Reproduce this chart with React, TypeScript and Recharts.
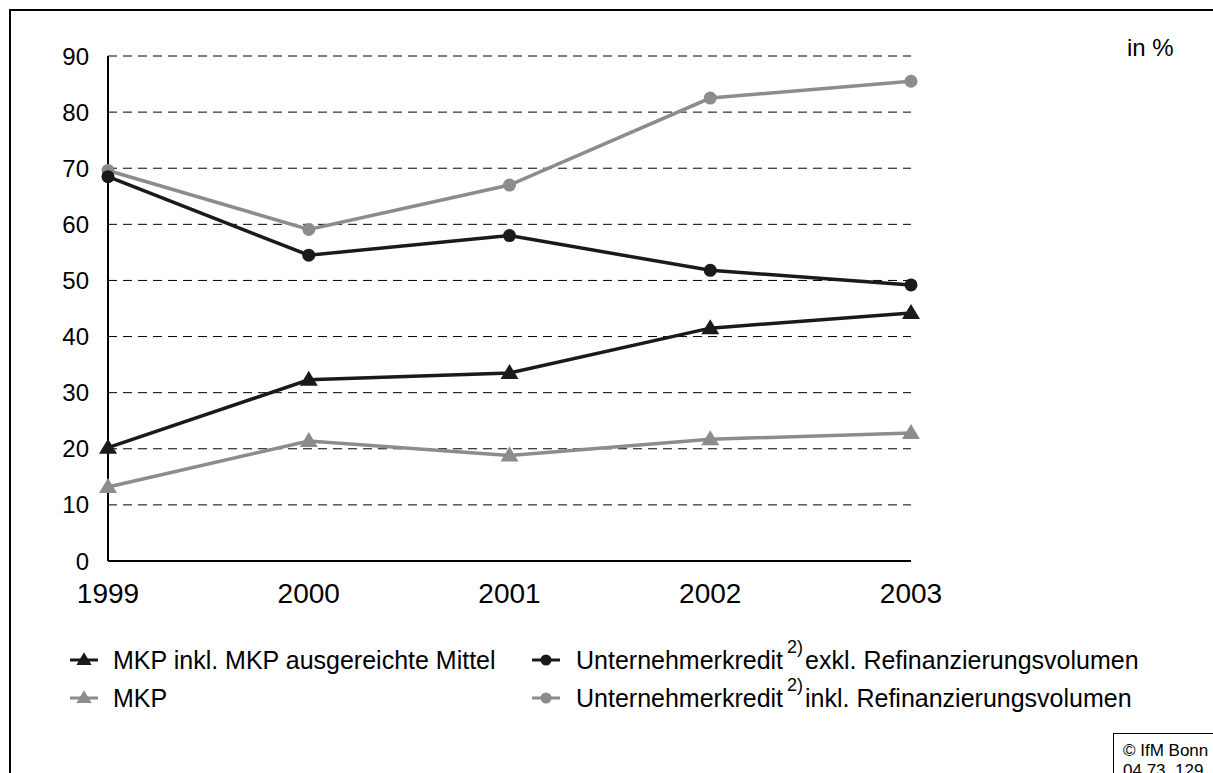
import React from "react";
import { LineChart, Line, XAxis, YAxis, CartesianGrid } from "recharts";

const years = ["1999", "2000", "2001", "2002", "2003"];
const yTicks = [0, 10, 20, 30, 40, 50, 60, 70, 80, 90];

// Anteile in %
const mkpInkl = [20.2, 32.3, 33.5, 41.5, 44.2];
const mkp = [13.2, 21.4, 18.8, 21.7, 22.8];
const ukExkl = [68.5, 54.5, 58.0, 51.8, 49.2];
const ukInkl = [69.6, 59.1, 67.0, 82.5, 85.5];

const BLACK = "#1a1a1a";
const GRAY = "#8c8c8c";
const FONT = "'Liberation Sans', Arial, sans-serif";

const data = years.map((year, i) => ({
  year,
  mkpInkl: mkpInkl[i],
  mkp: mkp[i],
  ukExkl: ukExkl[i],
  ukInkl: ukInkl[i],
}));

type Shape = "triangle" | "circle";

interface Series {
  key: string;
  color: string;
  shape: Shape;
  label: string;
  sup?: string;
  rest?: string;
}

const series: Series[] = [
  { key: "mkpInkl", color: BLACK, shape: "triangle", label: "MKP inkl. MKP ausgereichte Mittel" },
  { key: "mkp", color: GRAY, shape: "triangle", label: "MKP" },
  { key: "ukExkl", color: BLACK, shape: "circle", label: "Unternehmerkredit", sup: "2)", rest: "exkl. Refinanzierungsvolumen" },
  { key: "ukInkl", color: GRAY, shape: "circle", label: "Unternehmerkredit", sup: "2)", rest: "inkl. Refinanzierungsvolumen" },
];

// drawing order: grey lines below the black ones
const drawOrder = ["mkp", "ukInkl", "mkpInkl", "ukExkl"];

function Marker({ cx, cy, shape, color, size = 1 }: { cx: number; cy: number; shape: Shape; color: string; size?: number }) {
  if (shape === "circle") return <circle cx={cx} cy={cy} r={6.5 * size} fill={color} />;
  const w = 9 * size;
  return <polygon points={`${cx},${cy - 9 * size} ${cx + w},${cy + 6 * size} ${cx - w},${cy + 6 * size}`} fill={color} />;
}

function makeDot(s: Series) {
  return (props: any) => {
    const { cx, cy, index } = props;
    if (cx == null || cy == null) return <g key={`${s.key}-${index}`} />;
    return (
      <g key={`${s.key}-${index}`}>
        <Marker cx={cx} cy={cy} shape={s.shape} color={s.color} />
      </g>
    );
  };
}

function LegendItem({ s, left, top, gap }: { s: Series; left: number; top: number; gap: number }) {
  return (
    <div style={{ position: "absolute", left, top, height: 30, display: "flex", alignItems: "center", whiteSpace: "nowrap" }}>
      <svg width={28} height={20} style={{ marginRight: gap }}>
        <line x1={0} x2={28} y1={10} y2={10} stroke={s.color} strokeWidth={3} />
        <Marker cx={14} cy={10} shape={s.shape} color={s.color} size={0.85} />
      </svg>
      <span>{s.label}</span>
      {s.sup && (
        <span style={{ fontSize: 18, position: "relative", top: -13, marginLeft: 4, marginRight: 2 }}>{s.sup}</span>
      )}
      {s.rest && <span>{s.rest}</span>}
    </div>
  );
}

export default function App() {
  const byKey = (k: string) => series.find((s) => s.key === k)!;
  return (
    <div
      style={{
        position: "absolute",
        left: 0,
        top: 0,
        width: 1213,
        height: 773,
        overflow: "hidden",
        background: "#fff",
        fontFamily: FONT,
        color: "#000",
      }}
    >
      <div
        style={{
          position: "absolute",
          left: 9,
          top: 9,
          width: 1300,
          height: 900,
          borderTop: "2px solid #000",
          borderLeft: "2px solid #000",
        }}
      />
      <div style={{ position: "absolute", left: 0, top: 0 }}>
        <LineChart width={1213} height={640} data={data} margin={{ top: 56, right: 302, left: 0, bottom: 0 }}>
          <CartesianGrid vertical={false} stroke="#000" strokeWidth={1} strokeDasharray="9 6" />
          <XAxis
            dataKey="year"
            height={79}
            tickLine={false}
            tickSize={0}
            tickMargin={22}
            axisLine={{ stroke: "#000", strokeWidth: 2 }}
            tick={{ fill: "#000", fontSize: 28, fontFamily: FONT }}
            interval={0}
          />
          <YAxis
            width={108}
            domain={[0, 90]}
            ticks={yTicks}
            interval={0}
            tickLine={false}
            tickSize={0}
            tickMargin={19}
            axisLine={{ stroke: "#000", strokeWidth: 2 }}
            tick={{ fill: "#000", fontSize: 24, fontFamily: FONT }}
          />
          {drawOrder.map((k) => {
            const s = byKey(k);
            return (
              <Line
                key={k}
                type="linear"
                dataKey={k}
                stroke={s.color}
                strokeWidth={3.5}
                dot={makeDot(s)}
                activeDot={false}
                isAnimationActive={false}
              />
            );
          })}
        </LineChart>
      </div>
      <div style={{ position: "absolute", left: 1127, top: 34, fontSize: 24 }}>in %</div>

      <div style={{ fontSize: 25 }}>
        <LegendItem s={series[0]} left={70} top={645} gap={15} />
        <LegendItem s={series[1]} left={70} top={683} gap={15} />
        <LegendItem s={series[2]} left={532} top={645} gap={16} />
        <LegendItem s={series[3]} left={532} top={683} gap={16} />
      </div>

      <div
        style={{
          position: "absolute",
          left: 1113,
          top: 733,
          width: 200,
          height: 100,
          borderTop: "1.5px solid #000",
          borderLeft: "1.5px solid #000",
          padding: "7px 0 0 9px",
          fontSize: 17,
          lineHeight: "20px",
        }}
      >
        <div>© IfM Bonn</div>
        <div>04.73_129</div>
      </div>
    </div>
  );
}
